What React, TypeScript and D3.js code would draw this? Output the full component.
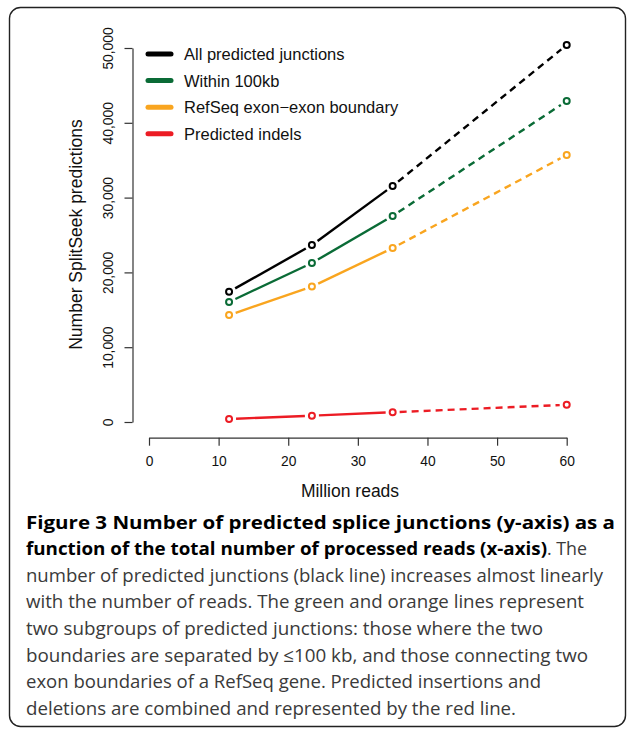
import React, { useRef, useEffect } from 'react';
import * as d3 from 'd3';

// millions of reads processed
const reads = [11.5, 23.4, 35.0, 60];

const allJunctions = [17400, 23650, 31550, 50400];
const within100kb = [16050, 21250, 27550, 42900];
const refseqBoundary = [14300, 18100, 23250, 35700];
const indels = [400, 850, 1300, 2300];

const seriesNames = [
  'All predicted junctions',
  'Within 100kb',
  'RefSeq exon\u2212exon boundary',
  'Predicted indels',
];
const seriesColors = ['#000000', '#0a6b36', '#f9a51f', '#ec1c24'];

const xTicks = [0, 10, 20, 30, 40, 50, 60];
const yTicks = [0, 10000, 20000, 30000, 40000, 50000];

// caption: [text, bold, x start, x end]
const captionLines: [string, boolean, number, number][][] = [
  [['Figure 3 Number of predicted splice junctions (y-axis) as a', true, 26, 615]],
  [
    ['function of the total number of processed reads (x-axis)', true, 26, 547],
    ['. The', false, 547, 587],
  ],
  [['number of predicted junctions (black line) increases almost linearly', false, 26, 603]],
  [['with the number of reads. The green and orange lines represent', false, 26, 584]],
  [['two subgroups of predicted junctions: those where the two', false, 26, 543]],
  [['boundaries are separated by \u2264100 kb, and those connecting two', false, 26, 588]],
  [['exon boundaries of a RefSeq gene. Predicted insertions and', false, 26, 541]],
  [['deletions are combined and represented by the red line.', false, 26, 516]],
];

const W = 627;
const H = 730;

const Chart = () => {
  const svgRef = useRef<SVGSVGElement>(null);

  useEffect(() => {
    const svg = d3.select(svgRef.current);
    svg.selectAll('*').remove();
    svg.attr('width', W).attr('height', H);

    const font = '"Liberation Sans", Arial, Helvetica, sans-serif';

    // frame
    svg.append('rect')
      .attr('x', 9.5).attr('y', 7.5)
      .attr('width', 616).attr('height', 719)
      .attr('rx', 11)
      .attr('fill', 'white')
      .attr('stroke', '#222')
      .attr('stroke-width', 1.4);

    const x = d3.scaleLinear().domain([0, 60]).range([149, 566.7]);
    const y = d3.scaleLinear().domain([0, 50000]).range([422, 48]);

    // y axis
    const yAxis = svg.append('g')
      .attr('transform', 'translate(132.5,0)')
      .call(d3.axisLeft(y).tickValues(yTicks).tickSize(8).tickSizeOuter(0)
        .tickFormat((d) => d3.format(',')(d as number)));
    yAxis.select('.domain').attr('stroke', '#333').attr('stroke-width', 1.2);
    yAxis.selectAll('.tick line').attr('stroke', '#333').attr('stroke-width', 1.2);
    yAxis.selectAll('.tick text')
      .attr('x', null).attr('dy', null)
      .attr('text-anchor', 'middle')
      .attr('transform', 'translate(-19.5,0) rotate(-90)')
      .attr('fill', '#111')
      .style('font-family', font)
      .style('font-size', '13.8px');

    // x axis
    const xAxis = svg.append('g')
      .attr('transform', 'translate(0,437.7)')
      .call(d3.axisBottom(x).tickValues(xTicks).tickSize(8).tickSizeOuter(0));
    xAxis.select('.domain').attr('stroke', '#333').attr('stroke-width', 1.2);
    xAxis.selectAll('.tick line').attr('stroke', '#333').attr('stroke-width', 1.2);
    xAxis.selectAll('.tick text')
      .attr('y', 28.8).attr('dy', null)
      .attr('fill', '#111')
      .style('font-family', font)
      .style('font-size', '13.8px');

    // axis titles
    svg.append('text')
      .attr('x', 350).attr('y', 496.5)
      .attr('text-anchor', 'middle')
      .attr('fill', '#111')
      .style('font-family', font).style('font-size', '17.5px')
      .text('Million reads');

    svg.append('text')
      .attr('transform', 'translate(81.5,234.5) rotate(-90)')
      .attr('text-anchor', 'middle')
      .attr('fill', '#111')
      .style('font-family', font).style('font-size', '17.5px')
      .text('Number SplitSeek predictions');

    // series
    const allSeries = [allJunctions, within100kb, refseqBoundary, indels];
    const gap = 7;
    allSeries.forEach((vals, si) => {
      const g = svg.append('g');
      const pts = vals.map((v, i) => [x(reads[i]), y(v)]);
      for (let i = 0; i < pts.length - 1; i++) {
        const [x1, y1] = pts[i];
        const [x2, y2] = pts[i + 1];
        const len = Math.hypot(x2 - x1, y2 - y1);
        const ux = (x2 - x1) / len;
        const uy = (y2 - y1) / len;
        g.append('line')
          .attr('x1', x1 + ux * gap).attr('y1', y1 + uy * gap)
          .attr('x2', x2 - ux * gap).attr('y2', y2 - uy * gap)
          .attr('stroke', seriesColors[si])
          .attr('stroke-width', 2.4)
          .attr('stroke-dasharray', i === pts.length - 2 ? '7,5' : null);
      }
      g.selectAll('circle')
        .data(pts)
        .enter()
        .append('circle')
        .attr('cx', (d) => d[0])
        .attr('cy', (d) => d[1])
        .attr('r', 3)
        .attr('fill', 'none')
        .attr('stroke', seriesColors[si])
        .attr('stroke-width', 2);
    });

    // legend
    const legend = svg.append('g');
    seriesNames.forEach((name, i) => {
      const ly = 54 + i * 26.6;
      legend.append('line')
        .attr('x1', 148).attr('x2', 171)
        .attr('y1', ly).attr('y2', ly)
        .attr('stroke', seriesColors[i])
        .attr('stroke-width', 5)
        .attr('stroke-linecap', 'round');
      legend.append('text')
        .attr('x', 184).attr('y', ly + 6)
        .style('font-family', font).style('font-size', '16.5px')
        .attr('fill', '#111')
        .text(name);
    });

    // caption
    const cap = svg.append('g')
      .style('font-family', '"Open Sans", "Noto Sans", sans-serif');
    captionLines.forEach((line, li) => {
      const by = 528.5 + li * 26.65;
      line.forEach(([t, bold, x0, x1]) => {
        cap.append('text')
          .attr('x', x0).attr('y', by)
          .attr('textLength', x1 - x0)
          .attr('lengthAdjust', 'spacingAndGlyphs')
          .attr('font-weight', bold ? 700 : 400)
          .style('font-size', bold ? '17.5px' : '18.5px')
          .attr('fill', bold ? '#000' : '#3a3a3a')
          .text(t);
      });
    });
  }, []);

  return <svg ref={svgRef}></svg>;
};

export default function App() {
  return (
    <div style={{ position: 'absolute', left: 0, top: 0 }}>
      <Chart />
    </div>
  );
}
